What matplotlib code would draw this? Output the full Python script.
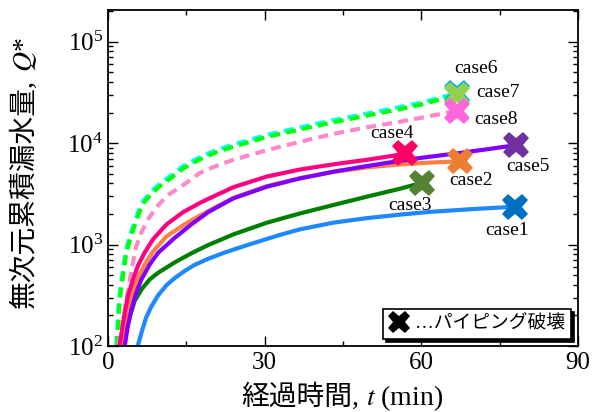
import matplotlib
matplotlib.use("Agg")
import matplotlib.pyplot as plt
from matplotlib.lines import Line2D
from matplotlib.ticker import FixedLocator, LogLocator, NullFormatter

FAM = ['Liberation Serif', 'Noto Sans CJK JP']
plt.rcParams['font.family'] = FAM
plt.rcParams['mathtext.fontset'] = 'stix'

# ---- data ----
t_case1 = [5.7, 6.4, 7.3, 8.3, 9.6, 11.2, 12.8, 14.7, 16.6, 19.2, 22.0, 24.0, 27.0, 30.4, 33.6, 36.8, 43.1, 49.5, 55.9, 61.7, 70.0, 77.9]
q_case1 = [100, 135, 191, 245, 316, 398, 468, 550, 631, 724, 822, 891, 1000, 1135, 1274, 1413, 1641, 1820, 1972, 2099, 2239, 2360]

t_case2 = [2.6, 3.2, 3.8, 4.8, 5.7, 7.0, 8.6, 11.2, 14.4, 16.0, 19.2, 24.0, 30.4, 36.8, 43.1, 49.5, 55.9, 61.7, 67.4]
q_case2 = [100, 157, 230, 348, 468, 631, 851, 1202, 1549, 1738, 2138, 2884, 3758, 4519, 5188, 5754, 6166, 6427, 6607]

t_case3 = [2.9, 3.5, 4.2, 5.1, 6.4, 8.0, 9.6, 12.8, 16.0, 19.2, 24.0, 30.4, 36.8, 43.1, 49.5, 55.9, 60.2]
q_case3 = [100, 146, 198, 277, 361, 454, 527, 668, 822, 989, 1259, 1641, 2028, 2449, 2958, 3548, 4074]

t_case4 = [2.2, 2.7, 3.2, 3.8, 4.8, 5.7, 7.0, 8.6, 11.2, 14.4, 17.6, 19.2, 24.0, 30.4, 36.8, 43.1, 49.5, 54.6, 56.9]
q_case4 = [100, 146, 213, 310, 454, 614, 830, 1122, 1578, 2089, 2570, 2818, 3673, 4677, 5495, 6166, 6839, 7499, 8035]

t_case5 = [3.2, 3.8, 4.5, 5.4, 6.4, 8.0, 9.6, 12.8, 16.0, 19.2, 24.0, 30.4, 36.8, 43.1, 49.5, 55.3, 60.0, 67.0, 72.0, 78.2]
q_case5 = [100, 157, 230, 335, 454, 638, 830, 1167, 1585, 2089, 2851, 3715, 4487, 5212, 5929, 6607, 7161, 7943, 8610, 9550]

t_case6 = [1.6, 2.1, 2.8, 3.4, 4.4, 5.3, 6.0, 6.9, 8.2, 9.7, 11.4, 14.3, 17.5, 20.6, 23.9, 27.3, 30.3, 36.7, 43.0, 49.4, 55.8, 60.0, 66.8]
q_case6 = [100, 290, 530, 870, 1315, 1780, 2230, 2750, 3300, 3880, 4510, 5880, 7230, 8490, 9640, 10820, 12000, 14260, 16750, 19460, 22600, 25070, 31000]

t_case7 = [1.75, 2.2, 2.9, 3.5, 4.5, 5.4, 6.1, 7.0, 8.3, 9.8, 11.5, 14.4, 17.6, 20.7, 24.0, 27.4, 30.4, 36.8, 43.1, 49.5, 55.9, 60.0, 66.8]
q_case7 = [100, 275, 508, 830, 1259, 1706, 2138, 2630, 3162, 3715, 4315, 5623, 6918, 8128, 9226, 10351, 11482, 13646, 16032, 18621, 21627, 23988, 29800]

t_case8 = [2.0, 2.6, 3.5, 4.5, 5.4, 6.5, 7.7, 9.3, 11.5, 14.4, 17.6, 20.7, 24.0, 27.4, 30.4, 36.8, 43.1, 49.5, 55.9, 60.0, 66.8]
q_case8 = [100, 145, 282, 562, 955, 1349, 1778, 2344, 3076, 3855, 5070, 5957, 6839, 7674, 8511, 10304, 12303, 14289, 16218, 17783, 20797]

case_names = ['case1', 'case2', 'case3', 'case4', 'case5', 'case6', 'case7', 'case8']
x_ticks = [0, 30, 60, 90]
legend_label = '…パイピング破壊'

# ---- styling ----
line_colors = {'case1': '#1e88ff', 'case2': '#ff8040', 'case3': '#008000', 'case4': '#ff0080',
               'case5': '#8000ff', 'case6': '#00ffff', 'case7': '#00ff00', 'case8': '#ff88c8'}
marker_colors = {'case1': '#0070c0', 'case2': '#ed7d31', 'case3': '#548235', 'case4': '#ff0066',
                 'case5': '#7030a0', 'case6': '#00b0f0', 'case7': '#92d050', 'case8': '#ff66dd'}
label_offsets = {'case1': (-8, -24), 'case2': (11, -19), 'case3': (-12, -23), 'case4': (-13, 19),
                 'case5': (12, -21), 'case6': (19, 25), 'case7': (41, 2), 'case8': (39, -9)}

data = {'case1': (t_case1, q_case1), 'case2': (t_case2, q_case2), 'case3': (t_case3, q_case3),
        'case4': (t_case4, q_case4), 'case5': (t_case5, q_case5), 'case6': (t_case6, q_case6),
        'case7': (t_case7, q_case7), 'case8': (t_case8, q_case8)}

W, H = 593, 412
fig = plt.figure(figsize=(W / 100, H / 100), dpi=100)
ax = fig.add_axes([108 / W, 1 - 346 / H, 470 / W, 336 / H])

draw_order = ['case6', 'case7', 'case8', 'case1', 'case3', 'case2', 'case5', 'case4']
for c in draw_order:
    t, q = data[c]
    if c in ('case6', 'case7', 'case8'):
        ax.plot(t, q, color=line_colors[c], lw=3, dashes=(2.4, 1.5),
                dash_capstyle='butt', dash_joinstyle='round', zorder=2)
    else:
        ax.plot(t, q, color=line_colors[c], lw=3, zorder=2, solid_joinstyle='round')

for c in case_names:
    t, q = data[c]
    ax.plot([t[-1]], [q[-1]], marker='X', ms=19, mew=0, color=marker_colors[c], zorder=4, ls='none')
    ax.annotate(c, (t[-1], q[-1]), xytext=label_offsets[c], textcoords='offset pixels',
                ha='center', va='center', fontsize=14, zorder=5)

ax.set_yscale('log')
ax.set_xlim(0, 90)
ax.set_ylim(100, 2.05e5)
ax.xaxis.set_major_locator(FixedLocator(x_ticks))
ax.xaxis.set_minor_locator(FixedLocator([15, 45, 75]))
ax.yaxis.set_major_locator(LogLocator(base=10, numticks=10))
ax.yaxis.set_minor_locator(LogLocator(base=10, subs=range(2, 10), numticks=20))
ax.yaxis.set_minor_formatter(NullFormatter())
ax.tick_params(which='both', direction='in', top=True, right=True, width=1.0, labelsize=18)
ax.tick_params(which='major', length=7.5)
ax.tick_params(which='minor', length=3.6)
ax.tick_params(axis='x', pad=4)
for s in ax.spines.values():
    s.set_linewidth(1.3)

handle = Line2D([], [], marker='X', ms=16, mew=0, color='black', ls='none')
leg = ax.legend([handle], [legend_label], loc='lower right', fontsize=13.5,
                frameon=True, fancybox=False, edgecolor='black', framealpha=1,
                handlelength=1.0, handletextpad=0.35, borderpad=0.35, borderaxespad=0.35,
                shadow={'facecolor': 'black', 'edgecolor': 'black', 'alpha': 1})
leg.get_frame().set_linewidth(1.2)

# ---- axis labels built from pieces (CJK + italic math symbol) ----
def fx(px):
    return px / W

def fy(py):
    return 1 - py / H

fig.canvas.draw()
r = fig.canvas.get_renderer()
gap = 7

xa = fig.text(0, 0, '経過時間,', fontsize=20, family=FAM, ha='left', va='baseline')
xb = fig.text(0, 0, '$t$ (min)', fontsize=20, ha='left', va='baseline')
wa = xa.get_window_extent(r).width
wb = xb.get_window_extent(r).width
x0 = 342 - (wa + gap + wb) / 2
xa.set_position((fx(x0), fy(405)))
xb.set_position((fx(x0 + wa + gap), fy(405)))

ya = fig.text(0, 0, '無次元累積漏水量,', fontsize=20, family=FAM, rotation=90,
              rotation_mode='anchor', ha='left', va='baseline')
yb = fig.text(0, 0, '$Q$*', fontsize=20, rotation=90, rotation_mode='anchor',
              ha='left', va='baseline')
ha_ = ya.get_window_extent(r).height
hb_ = yb.get_window_extent(r).height
y0 = 173 + (ha_ + gap + hb_) / 2
ya.set_position((fx(32), fy(y0)))
yb.set_position((fx(32), fy(y0 - ha_ - gap)))

fig.savefig('out.png', dpi=100)
